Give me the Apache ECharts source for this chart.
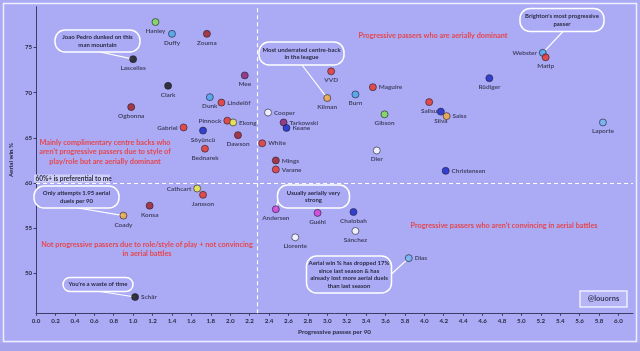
<!doctype html>
<html lang="en">
<head>
<meta charset="UTF-8">
<title>Centre backs - progressive passes vs aerial win %</title>
<style>
	html, body { margin: 0; padding: 0; background: #abaaf4; }
	#main { width: 640px; height: 351px; }
</style>
</head>
<body>
<div id="main"></div>
<script src="https://cdn.jsdelivr.net/npm/echarts@6/dist/echarts.min.js"></script>
<script type="text/javascript">
	// values
	var players = ['Hanley', 'Duffy', 'Zouma', 'Lascelles', 'Clark', 'Ogbonna', 'Dunk', 'Mee', 'Lindelöf', 'Gabriel',
		'Pinnock', 'Ekong', 'Söyüncü', 'Dawson', 'Bednarek', 'Cooper', 'Tarkowski', 'Keane', 'White', 'Mings',
		'Varane', 'Kilman', 'VVD', 'Burn', 'Maguire', 'Gibson', 'Dier', 'Webster', 'Matip', 'Rüdiger',
		'Salisu', 'Silva', 'Saiss', 'Laporte', 'Christensen', 'Cathcart', 'Jansson', 'Konsa', 'Coady', 'Schär',
		'Andersen', 'Guéhi', 'Chalobah', 'Llorente', 'Sánchez', 'Dias'];
	var passes = [1.23, 1.40, 1.76, 1.00, 1.36, 0.98, 1.79, 2.15, 1.91, 1.52,
		1.97, 2.03, 1.72, 2.08, 1.74, 2.39, 2.55, 2.58, 2.33, 2.47,
		2.47, 3.00, 3.04, 3.29, 3.47, 3.59, 3.51, 5.22, 5.25, 4.67,
		4.05, 4.17, 4.23, 5.84, 4.22, 1.66, 1.72, 1.17, 0.90, 1.02,
		2.47, 2.90, 3.27, 2.67, 3.29, 3.84];
	var aerial = [77.8, 76.5, 76.5, 73.7, 70.75, 68.4, 69.5, 71.9, 68.9, 66.15,
		66.9, 66.7, 65.8, 65.3, 63.8, 67.8, 66.7, 66.1, 64.4, 62.5,
		61.5, 69.4, 72.35, 69.8, 70.6, 67.6, 63.6, 74.4, 73.9, 71.6,
		68.95, 67.9, 67.4, 66.7, 61.35, 59.4, 58.7, 57.5, 56.4, 47.4,
		57.1, 56.7, 56.8, 54.0, 54.7, 51.7];
	var teams = ['Norwich', 'Brighton', 'West Ham', 'Newcastle', 'Newcastle', 'West Ham', 'Brighton', 'Burnley', 'Man Utd', 'Arsenal',
		'Brentford', 'Watford', 'Leicester', 'West Ham', 'Southampton', 'Leeds', 'Burnley', 'Everton', 'Arsenal', 'Aston Villa',
		'Man Utd', 'Wolves', 'Liverpool', 'Brighton', 'Man Utd', 'Norwich', 'Tottenham', 'Brighton', 'Liverpool', 'Chelsea',
		'Southampton', 'Chelsea', 'Wolves', 'Man City', 'Chelsea', 'Watford', 'Brentford', 'Aston Villa', 'Wolves', 'Newcastle',
		'Crystal Palace', 'Crystal Palace', 'Chelsea', 'Leeds', 'Tottenham', 'Man City'];
	var aerialLine = 60;
	var passesLine = 2.28;

	var teamColors = {
		'Norwich': '#7fe04a', 'Brighton': '#4aa6ea', 'West Ham': '#a11d1d', 'Newcastle': '#111111',
		'Burnley': '#8e1f6e', 'Man Utd': '#ec3222', 'Arsenal': '#ec3222', 'Brentford': '#ec3222',
		'Watford': '#f3ec3a', 'Leicester': '#1424c8', 'Southampton': '#ec3222', 'Leeds': '#ffffff',
		'Everton': '#1424c8', 'Aston Villa': '#a11d1d', 'Wolves': '#f2a93a', 'Liverpool': '#ec3222',
		'Tottenham': '#ffffff', 'Chelsea': '#1424c8', 'Man City': '#6fb6f2', 'Crystal Palace': '#d83cd8'
	};
	// where the name goes, default under the dot
	var labelSide = {
		'Lindelöf': 'right', 'Ekong': 'right', 'Cooper': 'right', 'Tarkowski': 'right', 'Keane': 'right',
		'White': 'right', 'Mings': 'right', 'Varane': 'right', 'Saiss': 'right', 'Christensen': 'right',
		'Schär': 'right', 'Dias': 'right', 'Maguire': 'right',
		'Webster': 'left', 'Pinnock': 'left', 'Gabriel': 'left', 'Cathcart': 'left'
	};

	var FONT = 'Lato, "Open Sans", sans-serif';
	var TXT = '#2a2a44';
	var RED = '#e5474e';

	var myChart = echarts.init(document.getElementById('main'));

	var points = players.map(function (p, i) {
		return {
			name: p,
			value: [passes[i], aerial[i]],
			itemStyle: { color: teamColors[teams[i]] },
			label: { position: labelSide[p] || 'bottom' }
		};
	});

	option = {
		backgroundColor: '#abaaf4',
		animation: false,
		grid: { left: 33.5, right: 7, top: 6.7, bottom: 37.7 },
		xAxis: {
			type: 'value', min: 0, max: 6.15, interval: 0.2,
			name: 'Progressive passes per 90', nameLocation: 'middle', nameGap: 15.5,
			nameTextStyle: { color: TXT, fontSize: 6.4, fontFamily: FONT, fontWeight: 'bold' },
			splitLine: { show: false },
			axisLine: { lineStyle: { color: '#3c3c66', width: 1 } },
			axisTick: { show: true, length: 2.5, lineStyle: { color: '#3c3c66' } },
			axisLabel: {
				color: TXT, fontSize: 6.2, fontFamily: FONT, fontWeight: 'bold', margin: 4.5,
				showMaxLabel: false,
				formatter: function (v) { return v.toFixed(1); }
			}
		},
		yAxis: {
			type: 'value', min: 45.6, max: 79.5, splitNumber: 5,
			name: 'Aerial win %', nameLocation: 'middle', nameGap: 17,
			nameTextStyle: { color: TXT, fontSize: 6.2, fontFamily: FONT, fontWeight: 'bold' },
			splitLine: { show: false },
			axisLine: { lineStyle: { color: '#3c3c66', width: 1 } },
			axisTick: { show: true, length: 2.5, lineStyle: { color: '#3c3c66' } },
			axisLabel: {
				color: TXT, fontSize: 6.2, fontFamily: FONT, fontWeight: 'bold', margin: 4,
				showMinLabel: false, showMaxLabel: false
			}
		},
		series: [{
			type: 'scatter',
			symbolSize: 7,
			data: points,
			z: 5,
			itemStyle: { borderColor: '#222233', borderWidth: 0.8 },
			label: {
				show: true, formatter: '{b}', distance: 2,
				color: TXT, fontSize: 6.4, fontFamily: FONT, fontWeight: 'bold'
			},
			markLine: {
				silent: true, symbol: 'none',
				label: { show: false },
				lineStyle: { color: '#ffffff', type: [4, 3], width: 1.2 },
				data: [{ xAxis: passesLine }, { yAxis: aerialLine }]
			}
		}]
	};
	myChart.setOption(option);

	// annotations
	function at(name) {
		var i = players.indexOf(name);
		return myChart.convertToPixel({ gridIndex: 0 }, [passes[i], aerial[i]]);
	}

	var callouts = [
		{ text: 'Joao Pedro dunked on this\nman mountain', box: [55, 30, 85, 22], from: [100, 52], to: 'Lascelles' },
		{ text: 'Most underrated centre-back\nin the league', box: [259, 42, 85, 23], from: [302, 65], to: 'Kilman' },
		{ text: 'Brighton\'s most progressive\npasser', box: [520, 8.5, 84, 23], from: [563, 31.5], to: 'Webster' },
		{ text: 'Only attempts 1.95 aerial\nduels per 90', box: [34, 186, 85, 22], from: [78, 208], to: 'Coady' },
		{ text: 'You\'re a waste of time', box: [63, 277.5, 70, 14], from: [100, 291.5], to: 'Schär' },
		{ text: 'Usually aerially very\nstrong', box: [277.5, 185, 72, 23], from: [278, 200], to: 'Andersen' },
		{ text: 'Aerial win % has dropped 17%\nsince last season & has\nalready lost more aerial duels\nthan last season', box: [306.5, 256, 85, 37], from: [391.5, 274], to: 'Dias' }
	];

	var regionNotes = [
		{ text: 'Progressive passers who are aerially dominant', x: 433, y: 36 },
		{ text: 'Mainly complimentary centre backs who\naren\'t progressive passers due to style of\nplay/role but are aerially dominant', x: 105, y: 152 },
		{ text: 'Not progressive passers due to role/style of play + not convincing\nin aerial battles', x: 147, y: 249.5 },
		{ text: 'Progressive passers who aren\'t convincing in aerial battles', x: 504, y: 226 }
	];

	var els = [];
	// outer frame and the strip under it
	els.push({ type: 'rect', z: 0, shape: { x: 0, y: 343, width: 640, height: 8 }, style: { fill: '#a4a3ec' } });
	els.push({ type: 'rect', z: 0, shape: { x: 3.5, y: 3.5, width: 633, height: 338 }, style: { fill: 'none', stroke: '#eeeeff', lineWidth: 1.5 } });

	callouts.forEach(function (c) {
		var end = at(c.to);
		els.push({ type: 'line', z: 1, shape: { x1: c.from[0], y1: c.from[1], x2: end[0], y2: end[1] },
			style: { stroke: '#ffffff', lineWidth: 1.2 } });
		els.push({ type: 'rect', z: 1, shape: { x: c.box[0], y: c.box[1], width: c.box[2], height: c.box[3], r: Math.min(c.box[3] / 2, 10) },
			style: { fill: '#abaaf4', stroke: '#ffffff', lineWidth: 1.5 } });
		els.push({ type: 'text', z: 1, style: {
			text: c.text, x: c.box[0] + c.box[2] / 2, y: c.box[1] + c.box[3] / 2,
			align: 'center', verticalAlign: 'middle', fill: TXT,
			fontSize: 6, fontWeight: 'bold', fontFamily: FONT, lineHeight: 7.8 } });
	});

	regionNotes.forEach(function (n) {
		els.push({ type: 'text', z: 1, style: {
			text: n.text, x: n.x, y: n.y, align: 'center', verticalAlign: 'middle',
			fill: RED, fontSize: 7.3, fontWeight: 'bold', fontFamily: FONT, lineHeight: 9.2 } });
	});

	// threshold note
	els.push({ type: 'rect', z: 1, shape: { x: 34, y: 174.5, width: 76, height: 8 }, style: { fill: '#cfcff8' } });
	els.push({ type: 'text', z: 1, style: { text: '60%+ is preferential to me', x: 35.5, y: 178.5, align: 'left', verticalAlign: 'middle',
		fill: TXT, fontSize: 6.5, fontWeight: 'bold', fontFamily: FONT } });

	// handle
	els.push({ type: 'rect', z: 1, shape: { x: 580, y: 291, width: 47, height: 16 }, style: { fill: '#b6b5f6', stroke: '#eeeeff', lineWidth: 1.5 } });
	els.push({ type: 'text', z: 1, style: { text: '@louorns', x: 603.5, y: 299, align: 'center', verticalAlign: 'middle',
		fill: '#3a3a5c', fontSize: 7.5, fontWeight: 'bold', fontFamily: FONT } });

	myChart.setOption({ graphic: { elements: els } });
</script>
</body>
</html>
